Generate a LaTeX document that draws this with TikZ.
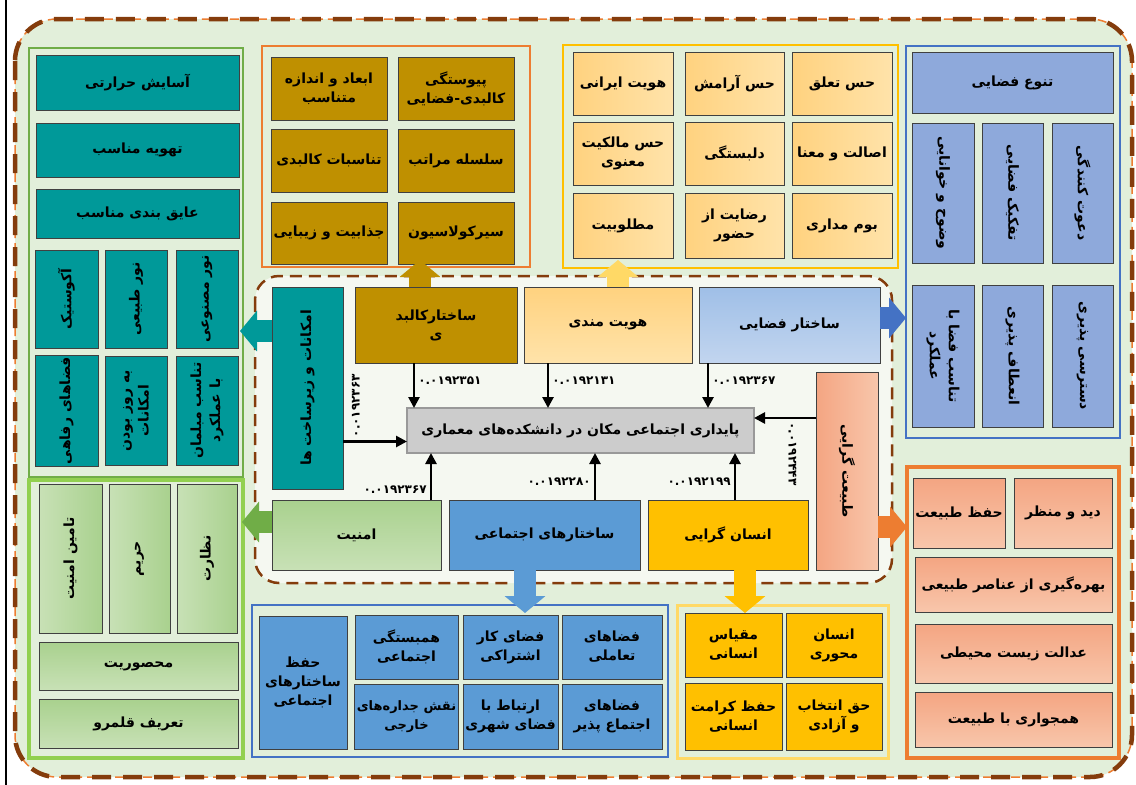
\documentclass[tikz,border=0pt]{standalone}
\usepackage{fontspec}
\usepackage{xcolor}
\usetikzlibrary{arrows.meta}
\newfontfamily\fa[Script=Arabic]{DejaVu Sans}
\TeXXeTstate=1
\newcommand\rl[1]{\beginR #1\endR}

\definecolor{bgout}{HTML}{E2EFDA}
\definecolor{bgin}{HTML}{F5F8F1}
\definecolor{brownd}{HTML}{843C0C}
\definecolor{orangeb}{HTML}{ED7D31}
\definecolor{tealc}{HTML}{009999}
\definecolor{goldc}{HTML}{BF9000}
\definecolor{lyA}{HTML}{FFD27F}
\definecolor{lyB}{HTML}{FFE3AA}
\definecolor{blueS}{HTML}{8EA9DB}
\definecolor{blueB}{HTML}{5B9BD5}
\definecolor{blueF}{HTML}{4472C4}
\definecolor{yelC}{HTML}{FFC000}
\definecolor{yelL}{HTML}{FFD966}
\definecolor{grA}{HTML}{A9D18E}
\definecolor{grB}{HTML}{C8E1B6}
\definecolor{grF}{HTML}{70AD47}
\definecolor{grL}{HTML}{92D050}
\definecolor{salA}{HTML}{F4A582}
\definecolor{salB}{HTML}{F8C6AB}
\definecolor{skyA}{HTML}{9FBFE7}
\definecolor{skyB}{HTML}{C2D5EF}

\begin{document}
\begin{tikzpicture}[x=1pt, y=-1pt, every node/.style={font=\fa\bfseries\fontsize{14}{19}\selectfont}, align=center,
  cell/.style={draw=black!75, line width=0.7pt, inner sep=2pt, outer sep=0pt},
  tealbox/.style={cell, fill=tealc},
  goldbox/.style={cell, fill=goldc},
  lybox/.style={cell, left color=lyA, right color=lyB},
  sbox/.style={cell, fill=blueS},
  gbox/.style={cell, top color=grA, bottom color=grB},
  gvbox/.style={cell, left color=grB, right color=grA},
  bbox/.style={cell, fill=blueB},
  ybox/.style={cell, fill=yelC},
  nbox/.style={cell, top color=salA, bottom color=salB},
  grp/.style={draw=#1, fill=bgout, line width=2pt, inner sep=0pt, outer sep=0pt},
  conn/.style={-{Triangle[width=11pt,length=11pt]}, line width=2.6pt},
  bigarrow/.style={draw=#1, line width=22pt, -{Triangle[width=40pt,length=17pt]}},
  num/.style={font=\fa\bfseries\fontsize{12}{14}\selectfont, inner sep=3pt}
]

\useasboundingbox (0,0) rectangle (1136,785);

% Background
\draw[line width=2pt] (6,0) -- (6,785);
\fill[bgout, rounded corners=42pt] (15,19) rectangle (1132,777);
\draw[orangeb, line width=1.5pt, dash pattern=on 9pt off 5pt, rounded corners=42pt] (15,19) rectangle (1132,777);
\draw[brownd, line width=4.5pt, dash pattern=on 19pt off 12pt, rounded corners=42pt] (15,19) rectangle (1132,777);
\draw[brownd, fill=bgin, line width=2.5pt, dash pattern=on 12pt off 7pt, rounded corners=24pt] (255,276) rectangle (892,583);

% Groups
\node[grp=grF, minimum width=214pt, minimum height=429pt] (gcomfort) at (136,262.5) {};
\node[grp=orangeb, minimum width=268pt, minimum height=221pt] (gphys) at (396,156.5) {};
\node[grp=yelC, line width=2.5pt, minimum width=335pt, minimum height=223pt] (gident) at (730.5,156.5) {};
\node[grp=blueF, line width=2.5pt, minimum width=214pt, minimum height=392pt] (gspace) at (1013,242) {};
\node[grp=grL, line width=3.5pt, minimum width=214pt, minimum height=278pt] (gsafe) at (136,619) {};
\node[grp=blueF, minimum width=416pt, minimum height=152pt] (gsocial) at (460,681) {};
\node[grp=yelL, line width=3pt, minimum width=211pt, minimum height=153pt] (ghuman) at (782.5,681.5) {};
\node[grp=orangeb, line width=4pt, minimum width=212pt, minimum height=291pt] (gnature) at (1013,612.5) {};

% Comfort
\node[tealbox, minimum width=203pt, minimum height=55pt] (heat) at (137.5,82.5) {\rl{آسایش حرارتی}};
\node[tealbox, minimum width=203pt, minimum height=54pt] (vent) at (137.5,150) {\rl{تهویه مناسب}};
\node[tealbox, minimum width=203pt, minimum height=49pt] (insul) at (137.5,213.5) {\rl{عایق بندی مناسب}};
\node[tealbox, rotate=90, minimum width=98pt, minimum height=63pt] (acou) at (66.5,299) {\rl{آکوستیک}};
\node[tealbox, rotate=90, minimum width=98pt, minimum height=62pt] (dayl) at (136,299) {\rl{نور طبیعی}};
\node[tealbox, rotate=90, minimum width=98pt, minimum height=62pt] (artl) at (207,299) {\rl{نور مصنوعی}};
\node[tealbox, rotate=90, minimum width=109pt, minimum height=63pt] (welf) at (66.5,410.5) {\rl{فضاهای رفاهی}};
\node[tealbox, rotate=90, minimum width=109pt, minimum height=62pt] (uptd) at (136,410.5) {\rl{به روز بودن}\\\rl{امکانات}};
\node[tealbox, rotate=90, minimum width=109pt, minimum height=62pt] (furn) at (207,410.5) {\rl{تناسب مبلمان}\\\rl{با عملکرد}};

% Physical
\node[goldbox, minimum width=116pt, minimum height=63pt] (dims) at (329,88.5) {\rl{ابعاد و اندازه}\\\rl{متناسب}};
\node[goldbox, minimum width=116pt, minimum height=63pt] (cont) at (456,88.5) {\rl{پیوستگی}\\\rl{کالبدی-فضایی}};
\node[goldbox, minimum width=116pt, minimum height=63pt] (prop) at (329,160.5) {\rl{تناسبات کالبدی}};
\node[goldbox, minimum width=116pt, minimum height=63pt] (hier) at (456,160.5) {\rl{سلسله مراتب}};
\node[goldbox, minimum width=116pt, minimum height=62pt] (attr) at (329,233) {\rl{جذابیت و زیبایی}};
\node[goldbox, minimum width=116pt, minimum height=62pt] (circ) at (456,233) {\rl{سیرکولاسیون}};

% Identity
\node[lybox, minimum width=100pt, minimum height=63pt] (iran) at (623,83.5) {\rl{هویت ایرانی}};
\node[lybox, minimum width=100pt, minimum height=63pt] (owner) at (623,153.5) {\rl{حس مالکیت}\\\rl{معنوی}};
\node[lybox, minimum width=100pt, minimum height=65pt] (desir) at (623,225.5) {\rl{مطلوبیت}};
\node[lybox, minimum width=99pt, minimum height=63pt] (calm) at (734.5,83.5) {\rl{حس آرامش}};
\node[lybox, minimum width=99pt, minimum height=63pt] (attach) at (734.5,153.5) {\rl{دلبستگی}};
\node[lybox, minimum width=99pt, minimum height=65pt] (satis) at (734.5,225.5) {\rl{رضایت از}\\\rl{حضور}};
\node[lybox, minimum width=100pt, minimum height=63pt] (belong) at (842,83.5) {\rl{حس تعلق}};
\node[lybox, minimum width=100pt, minimum height=63pt] (auth) at (842,153.5) {\rl{اصالت و معنا}};
\node[lybox, minimum width=100pt, minimum height=65pt] (local) at (842,225.5) {\rl{بوم مداری}};

% Spatial
\node[sbox, minimum width=201pt, minimum height=61pt] (vary) at (1012.5,82.5) {\rl{تنوع فضایی}};
\node[sbox, rotate=-90, minimum width=140pt, minimum height=62pt] (legib) at (943,193) {\rl{وضوح و خوانایی}};
\node[sbox, rotate=-90, minimum width=140pt, minimum height=61pt] (separ) at (1012.5,193) {\rl{تفکیک فضایی}};
\node[sbox, rotate=-90, minimum width=140pt, minimum height=61pt] (invit) at (1082.5,193) {\rl{دعوت کنندگی}};
\node[sbox, rotate=-90, minimum width=142pt, minimum height=62pt] (fitf) at (943,356) {\rl{تناسب فضا با}\\\rl{عملکرد}};
\node[sbox, rotate=-90, minimum width=142pt, minimum height=61pt] (flex) at (1012.5,356) {\rl{انعطاف پذیری}};
\node[sbox, rotate=-90, minimum width=142pt, minimum height=61pt] (access) at (1082.5,356) {\rl{دسترسی پذیری}};

% Safety
\node[gvbox, rotate=90, minimum width=149pt, minimum height=63pt] (secure) at (70.5,558.5) {\rl{تامین امنیت}};
\node[gvbox, rotate=90, minimum width=149pt, minimum height=61pt] (priv) at (139.5,558.5) {\rl{حریم}};
\node[gvbox, rotate=90, minimum width=149pt, minimum height=60pt] (surv) at (207,558.5) {\rl{نظارت}};
\node[gbox, minimum width=199pt, minimum height=48pt] (encl) at (138.5,666) {\rl{محصوریت}};
\node[gbox, minimum width=199pt, minimum height=49pt] (terr) at (138.5,723.5) {\rl{تعریف قلمرو}};

% Social
\node[bbox, minimum width=88pt, minimum height=133pt] (keep) at (303,682.5) {\rl{حفظ}\\\rl{ساختارهای}\\\rl{اجتماعی}};
\node[bbox, minimum width=103pt, minimum height=64pt] (solid) at (406.5,647) {\rl{همبستگی}\\\rl{اجتماعی}};
\node[bbox, minimum width=103pt, minimum height=65pt, font=\fa\bfseries\fontsize{13}{19}\selectfont] (facade) at (406.5,716.5) {\rl{نقش جداره‌های}\\\rl{خارجی}};
\node[bbox, minimum width=95pt, minimum height=64pt] (cowork) at (510.5,647) {\rl{فضای کار}\\\rl{اشتراکی}};
\node[bbox, minimum width=95pt, minimum height=65pt] (urban) at (510.5,716.5) {\rl{ارتباط با}\\\rl{فضای شهری}};
\node[bbox, minimum width=100pt, minimum height=64pt] (inter) at (612,647) {\rl{فضاهای}\\\rl{تعاملی}};
\node[bbox, minimum width=100pt, minimum height=65pt] (gather) at (612,716.5) {\rl{فضاهای}\\\rl{اجتماع پذیر}};

% Human
\node[ybox, minimum width=97pt, minimum height=64pt] (scale) at (733.5,645) {\rl{مقیاس}\\\rl{انسانی}};
\node[ybox, minimum width=97pt, minimum height=67pt] (dign) at (733.5,716.5) {\rl{حفظ کرامت}\\\rl{انسانی}};
\node[ybox, minimum width=96pt, minimum height=64pt] (hcent) at (834,645) {\rl{انسان}\\\rl{محوری}};
\node[ybox, minimum width=96pt, minimum height=67pt] (choice) at (834,716.5) {\rl{حق انتخاب}\\\rl{و آزادی}};

% Nature
\node[nbox, minimum width=92pt, minimum height=70pt] (presv) at (959,513) {\rl{حفظ طبیعت}};
\node[nbox, minimum width=98pt, minimum height=70pt] (view) at (1063,513) {\rl{دید و منظر}};
\node[nbox, minimum width=197pt, minimum height=55pt] (elem) at (1013.5,584.5) {\rl{بهره‌گیری از عناصر طبیعی}};
\node[nbox, minimum width=197pt, minimum height=59pt] (justice) at (1013.5,653.5) {\rl{عدالت زیست محیطی}};
\node[nbox, minimum width=197pt, minimum height=55pt] (adj) at (1013.5,719.5) {\rl{همجواری با طبیعت}};

% Main factors
\node[tealbox, rotate=90, minimum width=202pt, minimum height=71pt] (infra) at (307.5,388) {\rl{امکانات و زیرساخت ها}};
\node[goldbox, minimum width=162pt, minimum height=76pt] (phys) at (436,325) {\rl{ساختارکالبد}\\\rl{ی}};
\node[cell, top color=lyA, bottom color=lyB, minimum width=168pt, minimum height=76pt] (ident) at (608,325) {\rl{هویت مندی}};
\node[cell, top color=skyA, bottom color=skyB, minimum width=181pt, minimum height=76pt] (space) at (789.5,325) {\rl{ساختار فضایی}};
\node[cell, fill=gray!40, draw=gray!80, line width=1.2pt, minimum width=347pt, minimum height=45pt] (core) at (580.5,430.5) {\rl{پایداری اجتماعی مکان در دانشکده‌های معماری}};
\node[cell, top color=grA, bottom color=grB, minimum width=169pt, minimum height=70pt] (safe) at (356.5,535) {\rl{امنیت}};
\node[bbox, minimum width=191pt, minimum height=70pt] (social) at (544.5,535) {\rl{ساختارهای اجتماعی}};
\node[ybox, minimum width=160pt, minimum height=70pt] (human) at (728,535) {\rl{انسان گرایی}};
\node[cell, rotate=-90, left color=salA, right color=salB, minimum width=198pt, minimum height=62pt] (nature) at (847,471) {\rl{طبیعت گرایی}};

% Weights
\draw[conn] ([xshift=-22pt]phys.south) -- ([xshift=-22pt]core.north -| phys.south) node[num, pos=0.4, right] {۰.۰۱۹۲۳۵۱};
\draw[conn] ([xshift=-60pt]ident.south) -- ([xshift=-60pt]core.north -| ident.south) node[num, pos=0.4, right] {۰.۰۱۹۲۱۳۱};
\draw[conn] ([xshift=-81.5pt]space.south) -- ([xshift=-81.5pt]core.north -| space.south) node[num, pos=0.4, right] {۰.۰۱۹۲۳۶۷};
\draw[conn] ([xshift=74.5pt]safe.north) -- ([xshift=74.5pt]core.south -| safe.north) node[num, pos=0.22, left] {۰.۰۱۹۲۳۶۷};
\draw[conn] ([xshift=50.5pt]social.north) -- ([xshift=50.5pt]core.south -| social.north) node[num, pos=0.4, left] {۰.۰۱۹۲۲۸۰};
\draw[conn] ([xshift=7pt]human.north) -- ([xshift=7pt]core.south -| human.north) node[num, pos=0.4, left] {۰.۰۱۹۲۱۹۹};
\draw[conn] ([yshift=-11pt]core.west -| infra.south) -- ([yshift=-11pt]core.west) node[num, pos=0.2, rotate=90, anchor=west] {۰.۰۱۹۲۳۶۳};
\draw[conn] ([yshift=12.5pt]core.east -| nature.south) -- ([yshift=12.5pt]core.east) node[num, pos=0.38, rotate=-90, anchor=west] {۰.۰۱۹۲۴۴۳};

% Block arrows
\draw[bigarrow=goldc, shorten >=-7pt] ([xshift=-16pt]phys.north) -- ([xshift=-16pt]gphys.south -| phys.north);
\draw[bigarrow=yelL, shorten >=-8pt] ([xshift=10pt]ident.north) -- ([xshift=10pt]gident.south -| ident.north);
\draw[bigarrow=blueF] ([yshift=7pt]space.east) -- ([yshift=7pt]gspace.west |- space.east);
\draw[bigarrow=tealc, shorten >=-3pt] ([yshift=57pt]infra.north) -- ([yshift=57pt]gcomfort.east |- infra.north);
\draw[bigarrow=grF, shorten >=-1pt] ([yshift=13pt]safe.west) -- ([yshift=13pt]gsafe.east |- safe.west);
\draw[bigarrow=blueB, shorten >=-8pt] ([xshift=-19.5pt]social.south) -- ([xshift=-19.5pt]gsocial.north -| social.south);
\draw[bigarrow=yelC, shorten >=-8pt] ([xshift=17pt]human.south) -- ([xshift=17pt]ghuman.north -| human.south);
\draw[bigarrow=orangeb] ([yshift=-56pt]nature.north) -- ([yshift=-56pt]gnature.west |- nature.north);

\end{tikzpicture}
\end{document}
